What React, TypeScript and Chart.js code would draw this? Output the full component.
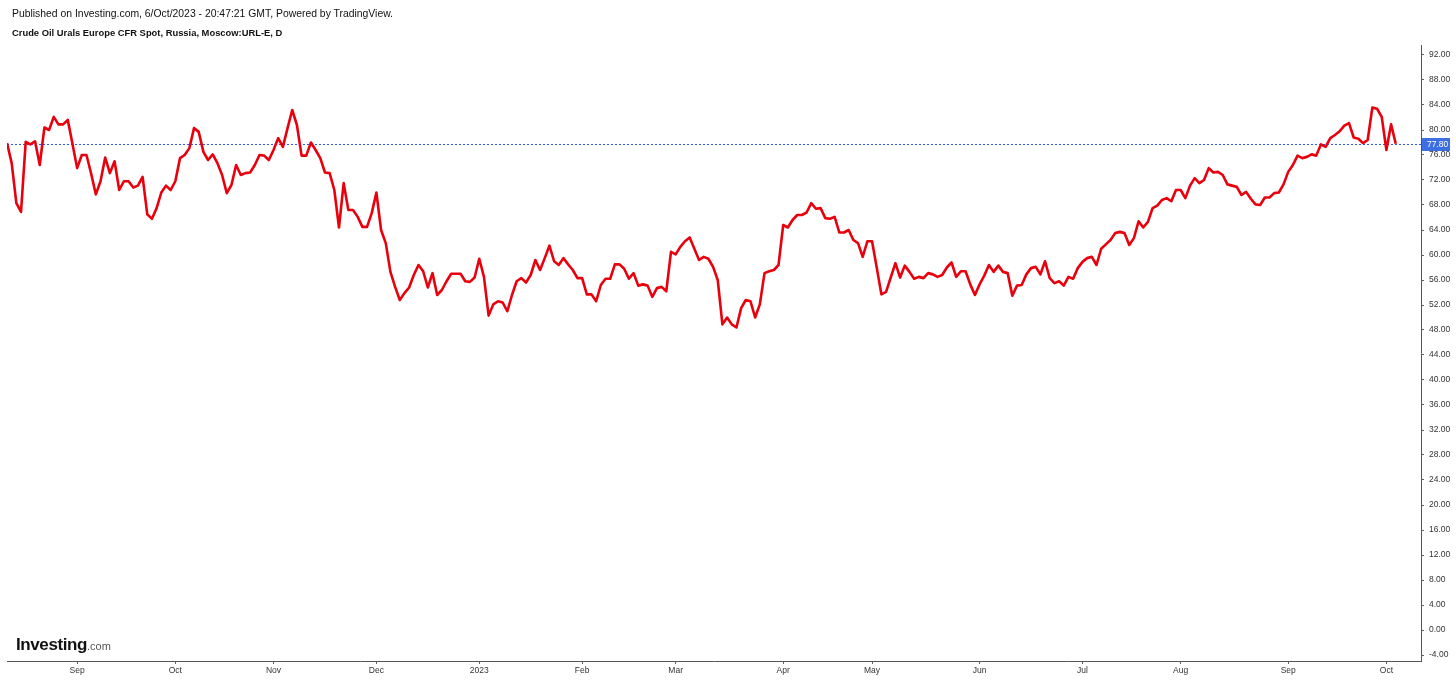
import React, { useEffect, useRef } from 'react';
import { Chart, registerables } from 'chart.js';

Chart.register(...registerables);

// ---- Data (daily closes, USD/bbl), grouped by calendar month ----
const aug2022 = [77.9, 74.7, 68.3, 66.9, 78.1, 77.7, 78.2, 74.4, 80.4, 80.0, 82.1, 80.9, 80.9, 81.6, 77.8];
const sep2022 = [73.9, 76.0, 76.0, 73.0, 69.7, 71.8, 75.6, 73.1, 75.0, 70.4, 71.8, 71.8, 70.8, 71.1, 72.5, 66.5, 65.8, 67.5, 70.0, 71.1, 70.4];
const oct2022 = [71.8, 75.5, 76.0, 77.1, 80.3, 79.7, 76.5, 75.2, 76.1, 74.7, 72.8, 69.9, 71.2, 74.4, 72.8, 73.1, 73.2, 74.4, 76.0, 75.9, 75.2];
const nov2022 = [76.8, 78.7, 77.3, 80.3, 83.2, 80.8, 75.9, 75.9, 78.0, 76.8, 75.5, 73.2, 73.1, 70.4, 64.4, 71.5, 67.2, 67.2, 66.1, 64.5, 64.5, 66.7];
const dec2022 = [70.0, 64.0, 61.9, 57.3, 54.9, 52.8, 53.9, 54.8, 56.8, 58.4, 57.4, 54.8, 57.1, 53.6, 54.4, 55.8, 57.0, 57.0, 57.0, 55.8, 55.7, 56.4];
const jan2023 = [59.4, 56.5, 50.3, 52.1, 52.6, 52.4, 51.0, 53.6, 55.8, 56.3, 55.6, 56.8, 59.2, 57.6, 59.5, 61.5, 59.0, 58.4, 59.5, 58.5, 57.6, 56.3];
const feb2023 = [56.3, 53.7, 53.7, 52.6, 55.2, 56.2, 56.2, 58.5, 58.5, 57.8, 56.2, 57.1, 55.1, 55.3, 55.1, 53.3, 54.7, 54.9, 54.2, 60.5];
const mar2023 = [60.1, 61.3, 62.2, 62.8, 61.0, 59.2, 59.7, 59.4, 58.1, 56.0, 48.9, 50.0, 48.9, 48.4, 51.5, 52.8, 52.6, 50.0, 52.1, 57.1, 57.4, 57.6, 58.4];
const apr2023 = [64.8, 64.4, 65.6, 66.4, 66.4, 66.8, 68.3, 67.4, 67.5, 65.9, 65.8, 66.1, 63.6, 63.6, 64.0, 62.4, 61.9, 59.7, 62.2];
const may2023 = [62.2, 58.0, 53.7, 54.1, 56.4, 58.7, 56.4, 58.3, 57.3, 56.2, 56.5, 56.3, 57.1, 56.9, 56.5, 56.8, 58.0, 58.8, 56.5, 57.4, 57.4, 55.3, 53.6];
const jun2023 = [55.3, 56.7, 58.4, 57.3, 58.3, 57.3, 57.1, 53.5, 55.1, 55.2, 56.9, 57.9, 58.1, 56.9, 59.0, 56.3, 55.5, 55.8, 55.1, 56.5, 56.2, 57.9];
const jul2023 = [58.9, 59.5, 59.7, 58.4, 61.0, 61.7, 62.4, 63.5, 63.7, 63.5, 61.6, 62.7, 65.4, 64.4, 65.3, 67.5, 67.9, 68.8, 69.1, 68.6, 70.4];
const aug2023 = [70.4, 69.1, 71.1, 72.3, 71.5, 72.0, 73.9, 73.2, 73.3, 72.8, 71.3, 71.1, 70.9, 69.6, 70.1, 69.0, 68.1, 68.0, 69.2, 69.2, 69.9, 70.0, 71.3];
const sep2023 = [73.3, 74.4, 75.9, 75.5, 75.7, 76.1, 75.9, 77.7, 77.3, 78.7, 79.2, 79.8, 80.7, 81.1, 78.8, 78.6, 77.9, 78.4, 83.6, 83.4, 82.1];
const oct2023 = [76.8, 80.9, 77.8];

// Month tick labels (first trading day of each month); '' = not labelled
const monthLabels = ['', 'Sep', 'Oct', 'Nov', 'Dec', '2023', 'Feb', 'Mar', 'Apr', 'May', 'Jun', 'Jul', 'Aug', 'Sep', 'Oct'];
const monthSeries = [aug2022, sep2022, oct2022, nov2022, dec2022, jan2023, feb2023, mar2023, apr2023, may2023, jun2023, jul2023, aug2023, sep2023, oct2023];

const yTickValues = [-4, 0, 4, 8, 12, 16, 20, 24, 28, 32, 36, 40, 44, 48, 52, 56, 60, 64, 68, 72, 76, 80, 84, 88, 92];

const publishedText = 'Published on Investing.com, 6/Oct/2023 - 20:47:21 GMT, Powered by TradingView.';
const seriesTitle = 'Crude Oil Urals Europe CFR Spot, Russia, Moscow:URL-E, D';

const FONT = '"Liberation Sans", Arial, Helvetica, sans-serif';

export default function App() {
  const canvasRef = useRef<HTMLCanvasElement | null>(null);

  useEffect(() => {
    document.body.style.margin = '0';
    const canvas = canvasRef.current;
    if (!canvas) return;

    const points: { x: number; y: number }[] = [];
    const monthTicks: { value: number; label: string }[] = [];
    let idx = 0;
    monthSeries.forEach((vals, m) => {
      if (monthLabels[m]) monthTicks.push({ value: idx, label: monthLabels[m] });
      vals.forEach((v) => {
        points.push({ x: idx, y: v });
        idx++;
      });
    });
    const lastValue = points[points.length - 1].y;

    const lastPricePlugin = {
      id: 'lastPrice',
      beforeDatasetsDraw(chart: any) {
        const { ctx, chartArea, scales } = chart;
        const y = Math.round(scales.y.getPixelForValue(lastValue)) + 0.5;
        ctx.save();
        ctx.strokeStyle = '#2a5cf5';
        ctx.lineWidth = 1;
        ctx.setLineDash([2, 2]);
        ctx.beginPath();
        ctx.moveTo(chartArea.left, y);
        ctx.lineTo(chartArea.right, y);
        ctx.stroke();
        ctx.restore();
      },
      afterDraw(chart: any) {
        const { ctx, chartArea, scales } = chart;
        const y = Math.round(scales.y.getPixelForValue(lastValue));
        ctx.save();
        ctx.fillStyle = '#3d6fe2';
        ctx.fillRect(chartArea.right + 1, y - 6, 28, 13);
        ctx.fillStyle = '#ffffff';
        ctx.font = `8.5px ${FONT}`;
        ctx.textBaseline = 'middle';
        ctx.textAlign = 'left';
        ctx.fillText(lastValue.toFixed(2), chartArea.right + 6, y + 0.5);
        ctx.restore();
      },
    };

    const chart = new Chart(canvas, {
      type: 'line',
      data: {
        datasets: [
          {
            data: points,
            borderColor: '#e8000d',
            borderWidth: 2.6,
            pointRadius: 0,
            tension: 0,
            borderJoinStyle: 'round',
            fill: false,
          },
        ],
      },
      options: {
        animation: false,
        responsive: false,
        maintainAspectRatio: false,
        layout: { padding: { top: 45, left: 7, right: 0, bottom: 0 } },
        plugins: { legend: { display: false }, tooltip: { enabled: false } },
        scales: {
          x: {
            type: 'linear',
            min: 0,
            max: 302.4,
            position: 'bottom',
            grid: { drawOnChartArea: false, drawTicks: true, tickLength: 3, color: '#666' },
            border: { display: true, color: '#555', width: 1 },
            ticks: {
              autoSkip: false,
              maxRotation: 0,
              padding: 2,
              color: '#333',
              font: { family: FONT, size: 8.5 },
              callback: (v: any) => {
                const t = monthTicks.find((m) => m.value === v);
                return t ? t.label : '';
              },
            },
            afterBuildTicks: (s: any) => {
              s.ticks = monthTicks.map((t) => ({ value: t.value }));
            },
            afterFit: (s: any) => {
              s.height = 20;
            },
          },
          y: {
            type: 'linear',
            position: 'right',
            min: -4.96,
            max: 93.6,
            grid: { drawOnChartArea: false, drawTicks: true, tickLength: 3, color: '#666' },
            border: { display: true, color: '#555', width: 1 },
            ticks: {
              padding: 5,
              color: '#333',
              font: { family: FONT, size: 8.5 },
              callback: (v: any) => Number(v).toFixed(2),
            },
            afterBuildTicks: (s: any) => {
              s.ticks = yTickValues.map((v) => ({ value: v }));
            },
            afterFit: (s: any) => {
              s.width = 35;
            },
          },
        },
      },
      plugins: [lastPricePlugin],
    } as any);

    return () => chart.destroy();
  }, []);

  return (
    <div style={{ position: 'relative', width: 1456, height: 681, background: '#fff', overflow: 'hidden' }}>
      <canvas ref={canvasRef} width={1456} height={681} style={{ position: 'absolute', left: 0, top: 0, display: 'block' }} />
      <div style={{ position: 'absolute', left: 12, top: 9, fontFamily: FONT, fontSize: 10.4, lineHeight: '10.4px', color: '#111', whiteSpace: 'nowrap' }}>
        {publishedText}
      </div>
      <div style={{ position: 'absolute', left: 12, top: 28, fontFamily: FONT, fontSize: 9.4, lineHeight: '9.4px', fontWeight: 'bold', color: '#111', whiteSpace: 'nowrap' }}>
        {seriesTitle}
      </div>
      <div style={{ position: 'absolute', left: 16, top: 635.6, fontFamily: FONT, lineHeight: '17px', whiteSpace: 'nowrap' }}>
        <span style={{ fontSize: 17, fontWeight: 'bold', color: '#111', letterSpacing: '-0.4px' }}>Investing</span>
        <span style={{ fontSize: 11, color: '#555' }}>.com</span>
      </div>
    </div>
  );
}
